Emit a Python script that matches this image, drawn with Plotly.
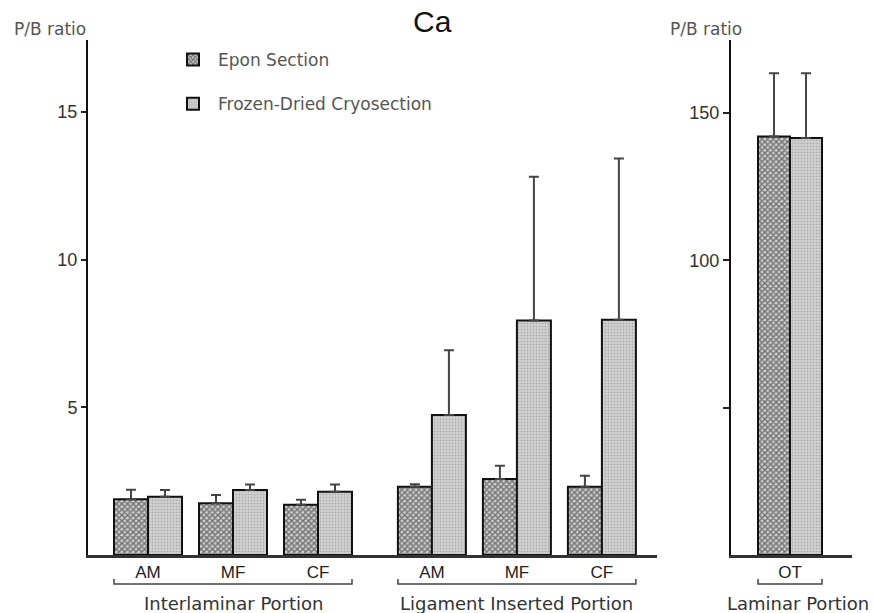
import plotly.graph_objects as go

# ---------------- data ----------------
categories = ["AM", "MF", "CF", "AM", "MF", "CF"]
group_names = ["Interlaminar Portion", "Ligament Inserted Portion"]
group_index = [0, 0, 0, 1, 1, 1]

epon = [1.89, 1.75, 1.70, 2.31, 2.57, 2.31]
epon_err = [0.32, 0.28, 0.17, 0.09, 0.45, 0.37]
frozen = [1.97, 2.20, 2.14, 4.74, 7.94, 7.97]
frozen_err = [0.23, 0.19, 0.25, 2.19, 4.87, 5.46]

lam_categories = ["OT"]
lam_group = "Laminar Portion"
lam_epon = [142.0]
lam_epon_err = [21.5]
lam_frozen = [141.5]
lam_frozen_err = [22.0]

left_ticks = [5, 10, 15]
right_ticks = [50, 100, 150]
right_ticktext = ["", "100", "150"]

# ---------------- layout helpers ----------------
W, H = 876, 613
def px_x(p):
    return p / W
def px_y(p):
    return 1 - p / H

GROUP_SHIFT = 0.34
pos = [i + GROUP_SHIFT * g for i, g in enumerate(group_index)]
lam_pos = [0]

epon_style = dict(color="#808080", line=dict(color="#111", width=2),
                  pattern=dict(shape="x", size=4, solidity=0.6,
                               fgcolor="#151515", bgcolor="#cfcfcf"))
frozen_style = dict(color="#cfcfcf", line=dict(color="#111", width=2),
                    pattern=dict(shape=".", size=3, solidity=0.35,
                                 fgcolor="#8a8a8a", bgcolor="#d2d2d2"))
err_common = dict(type="data", symmetric=False, color="#444", thickness=2, width=5)

fig = go.Figure()
fig.add_trace(go.Bar(x=pos, y=epon, name="Epon Section", marker=epon_style,
                     error_y=dict(array=epon_err, arrayminus=[0]*len(epon), **err_common),
                     xaxis="x", yaxis="y", legendgroup="a"))
fig.add_trace(go.Bar(x=pos, y=frozen, name="Frozen-Dried Cryosection", marker=frozen_style,
                     error_y=dict(array=frozen_err, arrayminus=[0]*len(frozen), **err_common),
                     xaxis="x", yaxis="y", legendgroup="b"))
fig.add_trace(go.Bar(x=lam_pos, y=lam_epon, name="Epon Section", marker=epon_style,
                     error_y=dict(array=lam_epon_err, arrayminus=[0], **err_common),
                     xaxis="x2", yaxis="y2", showlegend=False, legendgroup="a"))
fig.add_trace(go.Bar(x=lam_pos, y=lam_frozen, name="Frozen-Dried Cryosection", marker=frozen_style,
                     error_y=dict(array=lam_frozen_err, arrayminus=[0], **err_common),
                     xaxis="x2", yaxis="y2", showlegend=False, legendgroup="b"))

tick_font = dict(family="Liberation Sans Narrow, Arial Narrow, sans-serif", size=18, color="#333")
cat_font = dict(family="Liberation Sans, Arial, sans-serif", size=17, color="#222")
wide = "DejaVu Sans, Verdana, sans-serif"

ydom = [px_y(555), px_y(40)]
left_unit = 85.0
left_start = -(148 - 88) / left_unit
left_end = left_start + (657 - 88) / left_unit
right_unit = 80.0

fig.update_layout(
    width=W, height=H,
    margin=dict(l=0, r=0, t=0, b=0),
    paper_bgcolor="white", plot_bgcolor="white",
    barmode="group", bargap=0.2, bargroupgap=0,
    showlegend=True,
    legend=dict(x=px_x(168), y=px_y(42), xanchor="left", yanchor="top",
                font=dict(family=wide, size=17, color="#555"),
                tracegroupgap=19, bgcolor="rgba(0,0,0,0)", itemwidth=40),
    xaxis=dict(domain=[px_x(88), px_x(657)], range=[left_start, left_end],
               tickvals=pos, ticktext=categories, ticks="", showline=True,
               linecolor="#333", linewidth=3, showgrid=False, zeroline=False,
               tickfont=cat_font, ticklabelstandoff=0, anchor="y"),
    yaxis=dict(domain=ydom, range=[0, (555 - 40) / 29.53], tickvals=left_ticks,
               ticks="outside", ticklen=5, tickwidth=1.5, tickcolor="#222",
               showline=True, linecolor="#111", linewidth=2, showgrid=False,
               zeroline=False, tickfont=tick_font, anchor="x"),
    xaxis2=dict(domain=[px_x(731), px_x(852)],
                range=[-(790 - 731) / right_unit, (852 - 790) / right_unit],
                tickvals=lam_pos, ticktext=lam_categories, ticks="", showline=True,
                linecolor="#333", linewidth=3, showgrid=False, zeroline=False,
                tickfont=cat_font, ticklabelstandoff=0, anchor="y2"),
    yaxis2=dict(domain=ydom, range=[0, (555 - 40) / 2.947], tickvals=right_ticks,
                ticktext=right_ticktext, ticks="outside", ticklen=6, tickwidth=1.5,
                tickcolor="#222", showline=True, linecolor="#111", linewidth=2,
                showgrid=False, zeroline=False, tickfont=tick_font, anchor="x2"),
)

# title and axis captions
fig.add_annotation(text="Ca", x=px_x(432), y=px_y(21), xref="paper", yref="paper",
                   xanchor="center", yanchor="middle", showarrow=False,
                   font=dict(family="Liberation Sans, Arial, sans-serif", size=30, color="#111"))
for xl in (12, 668):
    fig.add_annotation(text="P/B ratio", x=px_x(xl), y=px_y(29), xref="paper", yref="paper",
                       xanchor="left", yanchor="middle", showarrow=False,
                       font=dict(family=wide, size=17, color="#555"))

# group brackets and labels
half = 0.4
y_line, y_end, y_lab = px_y(584), px_y(579), px_y(603)
lab_font = dict(family=wide, size=18, color="#333")
for g, gname in enumerate(group_names):
    members = [p for p, gi in zip(pos, group_index) if gi == g]
    x0, x1 = min(members) - half, max(members) + half
    fig.add_shape(type="path", xref="x", yref="paper",
                  path=f"M {x0},{y_end} L {x0},{y_line} L {x1},{y_line} L {x1},{y_end}",
                  line=dict(color="#444", width=1.5))
    fig.add_annotation(text=gname, x=(x0 + x1) / 2, y=y_lab, xref="x", yref="paper",
                       xanchor="center", yanchor="middle", showarrow=False, font=lab_font)
x0, x1 = lam_pos[0] - half, lam_pos[0] + half
fig.add_shape(type="path", xref="x2", yref="paper",
              path=f"M {x0},{y_end} L {x0},{y_line} L {x1},{y_line} L {x1},{y_end}",
              line=dict(color="#444", width=1.5))
fig.add_annotation(text=lam_group, x=px_x(798), y=y_lab, xref="paper", yref="paper",
                   xanchor="center", yanchor="middle", showarrow=False, font=lab_font)

fig.write_html("out.html", config={"displayModeBar": False},
               post_script="document.body.style.margin='0';")
